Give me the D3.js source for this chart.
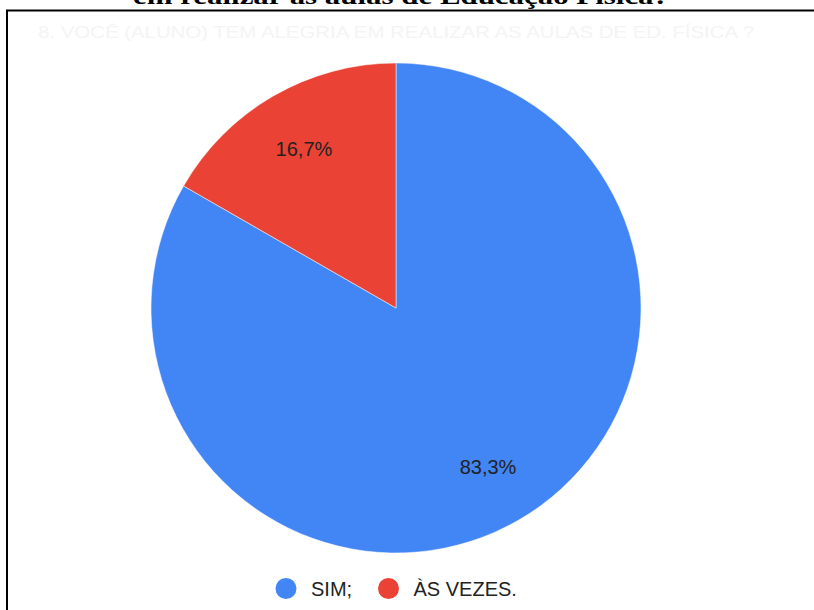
<!DOCTYPE html>
<html>
<head>
<meta charset="utf-8">
<script src="https://cdn.jsdelivr.net/npm/d3@7"></script>
<style>
  body { margin: 0; background: #fff; }
  svg { display: block; }
</style>
</head>
<body>
<div id="chart"></div>
<script>
// Chart values
const categories = ["SIM;", "ÀS VEZES."];
const values = [83.3, 16.7];
const pctLabels = ["83,3%", "16,7%"];
const colors = ["#4285F4", "#EA4335"];
const pageTitle = "em realizar as aulas de Educação Física?";
const ghostTitle = "8. VOCÊ (ALUNO) TEM  ALEGRIA EM REALIZAR AS AULAS DE ED. FÍSICA ?";

const width = 814;
const height = 610;
const cx = 396, cy = 308, radius = 245;

const svg = d3.select("#chart")
  .append("svg")
  .attr("width", width)
  .attr("height", height);

// title of the document, cut off at the top
svg.append("text")
  .attr("x", 401)
  .attr("y", 4)
  .attr("text-anchor", "middle")
  .attr("font-family", "Liberation Serif, Times New Roman, serif")
  .attr("font-weight", "bold")
  .attr("font-size", 24)
  .attr("textLength", 536)
  .attr("lengthAdjust", "spacingAndGlyphs")
  .attr("fill", "#000")
  .text(pageTitle);

// frame of the pasted chart (left and top edges only visible)
svg.append("path")
  .attr("d", `M7,${height} V10.5 H${width}`)
  .attr("fill", "none")
  .attr("stroke", "#000")
  .attr("stroke-width", 2);

// faint chart title inside the frame
svg.append("text")
  .attr("x", 396)
  .attr("y", 38)
  .attr("text-anchor", "middle")
  .attr("font-family", "Liberation Sans Narrow, Arial Narrow, sans-serif")
  .attr("font-size", 17)
  .attr("textLength", 716)
  .attr("lengthAdjust", "spacingAndGlyphs")
  .attr("fill", "#f4f4f4")
  .text(ghostTitle);

/* Pie */
const pie = d3.pie().sort(null).value(d => d);
const arcs = pie(values);
const arc = d3.arc().innerRadius(0).outerRadius(radius);
const labelArc = d3.arc().innerRadius(radius * 0.75).outerRadius(radius * 0.75);

const g = svg.append("g").attr("transform", `translate(${cx},${cy})`);

g.selectAll(".slice")
  .data(arcs)
  .enter()
  .append("path")
    .attr("class", "slice")
    .attr("d", arc)
    .attr("fill", (d, i) => colors[i])
    .attr("stroke", "#fff")
    .attr("stroke-width", 0.5);

g.selectAll(".pct")
  .data(arcs)
  .enter()
  .append("text")
    .attr("class", "pct")
    .attr("transform", d => `translate(${labelArc.centroid(d)})`)
    .attr("text-anchor", "middle")
    .attr("dy", "0.35em")
    .attr("font-family", "Liberation Sans, Arial, sans-serif")
    .attr("font-size", 20)
    .attr("fill", "#222")
    .text((d, i) => pctLabels[i]);

/* Legend */
const legendX = [286, 388.5];
const legend = svg.selectAll(".legend")
  .data(categories)
  .enter()
  .append("g")
    .attr("class", "legend")
    .attr("transform", (d, i) => `translate(${legendX[i]},588.5)`);

legend.append("circle")
  .attr("r", 10.5)
  .attr("fill", (d, i) => colors[i]);

legend.append("text")
  .attr("x", 25)
  .attr("dy", "0.36em")
  .attr("font-family", "Liberation Sans, Arial, sans-serif")
  .attr("font-size", 20)
  .attr("fill", "#222")
  .text(d => d);
</script>
</body>
</html>
